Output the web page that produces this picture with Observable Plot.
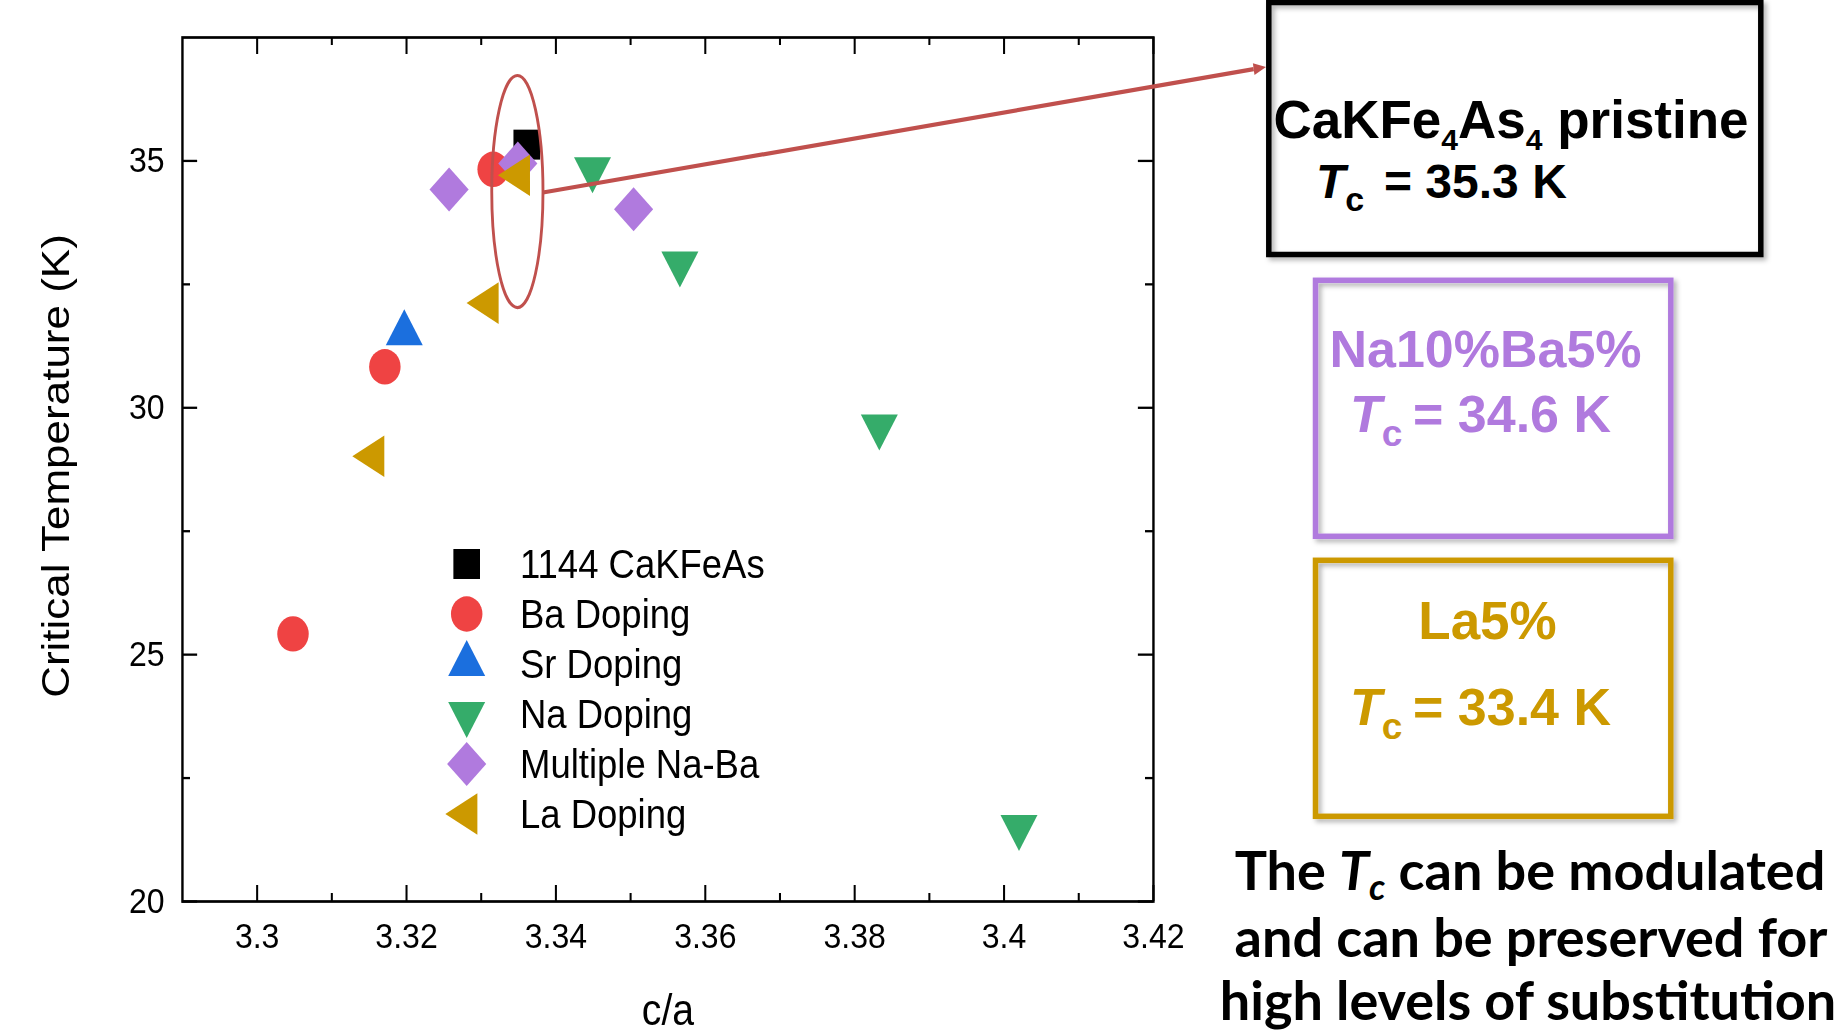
<!DOCTYPE html>
<html>
<head>
<meta charset="utf-8">
<script src="https://cdn.jsdelivr.net/npm/d3@7"></script>
<script src="https://cdn.jsdelivr.net/npm/@observablehq/plot@0.6"></script>
<style>
  html, body { margin: 0; padding: 0; background: #fff; overflow: hidden; }
  #page { position: relative; width: 1839px; height: 1033px; overflow: hidden; background: #fff; }
  #chart { position: absolute; left: 0; top: 0; transform-origin: 0 0; }
  #anno { position: absolute; left: 0; top: 0; }
  .ann { font-family: 'Liberation Sans', Arial, Helvetica, sans-serif; font-weight: bold; }
  .note { font-family: Lato, 'Open Sans', 'Noto Sans', sans-serif; font-weight: bold; }
</style>
</head>
<body>
<div id="page">
  <div id="chart"></div>
  <svg id="anno" width="1839" height="1033" viewBox="0 0 1839 1033">
    <defs>
      <filter id="shadow" x="-10%" y="-10%" width="130%" height="130%">
        <feDropShadow dx="3" dy="3" stdDeviation="2.5" flood-color="#000" flood-opacity="0.3"/>
      </filter>
    </defs>
    <!-- pristine box -->
    <rect x="1268.8" y="2.5" width="492" height="252" fill="none" stroke="#000" stroke-width="5.5" filter="url(#shadow)"/>
    <text class="ann" x="1511" y="138" text-anchor="middle" font-size="53" fill="#000">CaKFe<tspan font-size="30" dy="12">4</tspan><tspan dy="-12">As</tspan><tspan font-size="30" dy="12">4</tspan><tspan dy="-12"> pristine</tspan></text>
    <text class="ann" x="1316" y="198" font-size="48" fill="#000"><tspan font-style="italic">T</tspan><tspan font-size="34" dy="13">c</tspan><tspan x="1384" dy="-13">= 35.3 K</tspan></text>
    <!-- Na-Ba box -->
    <rect x="1315.5" y="280.3" width="355.3" height="256" fill="none" stroke="#B07ADE" stroke-width="5.5" filter="url(#shadow)"/>
    <text class="ann" x="1485.5" y="366.7" text-anchor="middle" font-size="52" fill="#B07ADE">Na10%Ba5%</text>
    <text class="ann" x="1350" y="432" font-size="52" fill="#B07ADE"><tspan font-style="italic">T</tspan><tspan font-size="37" dy="14">c</tspan><tspan x="1413" dy="-14">= 34.6 K</tspan></text>
    <!-- La box -->
    <rect x="1315.5" y="560.3" width="355.3" height="256" fill="none" stroke="#CC9900" stroke-width="5.5" filter="url(#shadow)"/>
    <text class="ann" x="1487.5" y="639" text-anchor="middle" font-size="53" fill="#CC9900">La5%</text>
    <text class="ann" x="1350" y="725" font-size="52" fill="#CC9900"><tspan font-style="italic">T</tspan><tspan font-size="37" dy="14">c</tspan><tspan x="1413" dy="-14">= 33.4 K</tspan></text>
    <!-- conclusion -->
    <text class="note" x="1530" y="890" text-anchor="middle" font-size="54" fill="#000">The <tspan font-style="italic">T</tspan><tspan font-style="italic" font-size="36" dy="10">c</tspan><tspan dy="-10"> can be modulated</tspan></text>
    <text class="note" x="1531" y="957" text-anchor="middle" font-size="54" fill="#000">and can be preserved for</text>
    <text class="note" x="1528" y="1020" text-anchor="middle" font-size="54" fill="#000">high levels of substitution</text>
  </svg>
</div>
<script>
// ---------------- data ----------------
const series = ["1144 CaKFeAs", "Ba Doping", "Sr Doping", "Na Doping", "Multiple Na-Ba", "La Doping"];

const pristineCa = [3.3361];
const pristineTc = [35.33];

const baCa = [3.3316, 3.3171, 3.3048];
const baTc = [34.83, 30.83, 25.42];

const srCa = [3.3197];
const srTc = [31.51];

const naCa = [3.3449, 3.3566, 3.3833, 3.4020];
const naTc = [34.83, 32.92, 29.62, 21.51];

const naBaCa = [3.3257, 3.3349, 3.3504];
const naBaTc = [34.42, 34.95, 34.02];

const laCa = [3.3156, 3.3309, 3.3351];
const laTc = [29.02, 32.12, 34.71];

const xTicks = [3.30, 3.32, 3.34, 3.36, 3.38, 3.40, 3.42];
const xTickLabels = ["3.3", "3.32", "3.34", "3.36", "3.38", "3.4", "3.42"];
const xMinor = [3.31, 3.33, 3.35, 3.37, 3.39, 3.41];
const yTicks = [20, 25, 30, 35];
const yTickLabels = ["20", "25", "30", "35"];
const yMinor = [22.5, 27.5, 32.5];

// highlight ellipse around the pristine cluster (data units)
const ellipseCa = [3.3349];
const ellipseTc = [34.37];
const ellipseRCa = [0.00343];
const ellipseRTc = [2.35];

// ---------------- styling ----------------
const colors = ["#000000", "#EF4343", "#1B6FDE", "#35AC6A", "#B07ADE", "#CC9900"];
const SX = 0.89;                // horizontal squeeze of the original figure
const W = 1440, H = 1033;
const mL = 182 / SX, mR = W - 1153 / SX, mT = 37, mB = H - 901;
const FW = W - mL - mR, FH = H - mT - mB;

const sqrt3 = Math.sqrt(3);
const triUp = { draw(c, s) { const y = -Math.sqrt(s / (sqrt3 * 3)); c.moveTo(0, 2 * y); c.lineTo(-sqrt3 * y, -y); c.lineTo(sqrt3 * y, -y); c.closePath(); } };
const triDown = { draw(c, s) { const y = -Math.sqrt(s / (sqrt3 * 3)); c.moveTo(0, -2 * y); c.lineTo(-sqrt3 * y, y); c.lineTo(sqrt3 * y, y); c.closePath(); } };
const triLeft = { draw(c, s) { const y = -Math.sqrt(s / (sqrt3 * 3)); c.moveTo(2 * y, 0); c.lineTo(-y, -sqrt3 * y); c.lineTo(-y, sqrt3 * y); c.closePath(); } };
const diamond = { draw(c, s) { const h = Math.sqrt(s / 2); c.moveTo(0, -h); c.lineTo(h, 0); c.lineTo(0, h); c.lineTo(-h, 0); c.closePath(); } };

const symbols = [d3.symbolSquare, d3.symbolCircle, triUp, triDown, diamond, triLeft];
const plotSymbols = ["square", "circle", triUp, triDown, diamond, triLeft];
const radii = [16.9, 17.7, 15.43, 15.43, 17.55, 15.43];

const rows = (xs, ys) => xs.map((x, i) => ({ x, y: ys[i] }));
const seriesData = [
  rows(pristineCa, pristineTc),
  rows(baCa, baTc),
  rows(srCa, srTc),
  rows(naCa, naTc),
  rows(naBaCa, naBaTc),
  rows(laCa, laTc)
];

const dotMarks = seriesData.map((d, i) =>
  Plot.dot(d, { x: "x", y: "y", symbol: plotSymbols[i], r: radii[i], fill: colors[i], stroke: "none" })
);

// legend drawn inside the frame
function legendMark() {
  const g = d3.create("svg:g").attr("text-anchor", "start");
  const lx = 466.7 / SX, tx = 520 / SX, top = 564, step = 50;
  series.forEach((name, i) => {
    const cy = top + i * step;
    g.append("path")
      .attr("transform", `translate(${lx},${cy})`)
      .attr("d", d3.symbol(symbols[i], Math.PI * radii[i] * radii[i])())
      .attr("fill", colors[i]);
    g.append("text")
      .attr("x", tx).attr("y", cy + 14)
      .attr("text-anchor", "start")
      .attr("font-size", 41)
      .attr("fill", "#000")
      .text(name);
  });
  return g.node();
}

// ellipse + arrow toward the pristine box
function highlightMark(index, scales) {
  const { x, y } = scales;
  const g = d3.create("svg:g");
  const cx = x(ellipseCa[0]), cy = y(ellipseTc[0]);
  const rx = Math.abs(x(ellipseCa[0] + ellipseRCa[0]) - cx);
  const ry = Math.abs(y(ellipseTc[0] + ellipseRTc[0]) - cy);
  g.append("ellipse")
    .attr("cx", cx).attr("cy", cy).attr("rx", rx).attr("ry", ry)
    .attr("fill", "none").attr("stroke", "#C0504D").attr("stroke-width", 3.2);
  const x1 = cx + rx, y1 = cy + 1;
  const x2 = 1266 / SX, y2 = 67;
  const dx = x2 - x1, dy = y2 - y1, L = Math.hypot(dx, dy);
  const ux = dx / L, uy = dy / L;
  const hl = 14, hw = 6;
  const bx = x2 - ux * hl, by = y2 - uy * hl;
  g.append("line")
    .attr("x1", x1).attr("y1", y1).attr("x2", bx).attr("y2", by)
    .attr("stroke", "#C0504D").attr("stroke-width", 4.2);
  g.append("path")
    .attr("d", `M${x2},${y2}L${bx - uy * hw},${by + ux * hw}L${bx + uy * hw},${by - ux * hw}Z`)
    .attr("fill", "#C0504D");
  return g.node();
}

const fmtX = d => xTickLabels[xTicks.indexOf(d)];
const fmtY = d => yTickLabels[yTicks.indexOf(d)];

const chart = Plot.plot({
  width: W,
  height: H,
  marginLeft: mL,
  marginRight: mR,
  marginTop: mT,
  marginBottom: mB,
  style: { fontFamily: "'Liberation Sans', Arial, Helvetica, sans-serif", color: "#000", background: "transparent", overflow: "visible" },
  x: { domain: [3.29, 3.42] },
  y: { domain: [20, 37.5] },
  marks: [
    // inward ticks on all four sides
    Plot.tickX(xTicks, { insetTop: FH - 16, stroke: "#000", strokeWidth: 2.3 }),
    Plot.tickX(xTicks, { insetBottom: FH - 17, stroke: "#000", strokeWidth: 2.3 }),
    Plot.tickX(xMinor, { insetTop: FH - 8, stroke: "#000", strokeWidth: 2.3 }),
    Plot.tickX(xMinor, { insetBottom: FH - 8, stroke: "#000", strokeWidth: 2.3 }),
    Plot.tickY(yTicks, { insetRight: FW - 17, stroke: "#000", strokeWidth: 2.3 }),
    Plot.tickY(yTicks, { insetLeft: FW - 17, stroke: "#000", strokeWidth: 2.3 }),
    Plot.tickY(yMinor, { insetRight: FW - 9, stroke: "#000", strokeWidth: 2.3 }),
    Plot.tickY(yMinor, { insetLeft: FW - 9, stroke: "#000", strokeWidth: 2.3 }),
    Plot.frame({ stroke: "#000", strokeWidth: 2.7 }),
    Plot.axisX({ ticks: xTicks, tickFormat: fmtX, tickSize: 0, tickPadding: 21, fontSize: 36, label: null }),
    Plot.axisY({ ticks: yTicks, tickFormat: fmtY, tickSize: 0, tickPadding: 20, fontSize: 36, label: null }),
    Plot.text(["Critical Temperature (K)"], { frameAnchor: "left", textAnchor: "middle", lineAnchor: "middle", dx: 62.4 - mL, dy: -3.5, rotate: -90, fontSize: 44, fill: "#000" }),
    Plot.text(["c/a"], { frameAnchor: "bottom", textAnchor: "middle", lineAnchor: "middle", dy: 109, fontSize: 44, fill: "#000" }),
    ...dotMarks,
    legendMark,
    highlightMark
  ]
});

const holder = document.getElementById("chart");
holder.style.width = W + "px";
holder.style.transform = `scaleX(${SX})`;
holder.appendChild(chart);
</script>
</body>
</html>
